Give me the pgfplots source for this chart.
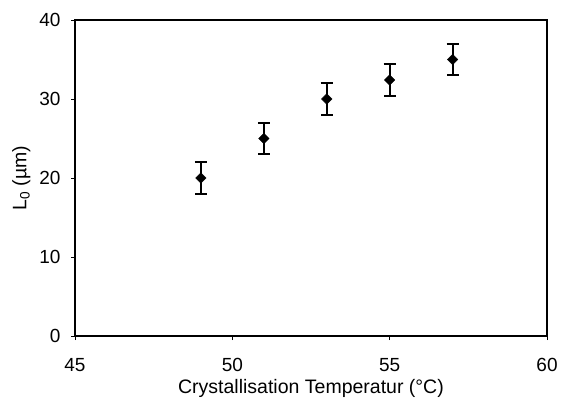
\documentclass[border=0pt]{standalone}
\usepackage{pgfplots}
\pgfplotsset{compat=1.18}
\usepackage{fontspec}
\setmainfont{Liberation Sans}
\begin{document}
\begin{tikzpicture}
\useasboundingbox (-75pt,-62pt) rectangle (486pt,336pt);
\begin{axis}[
  at={(0,0)}, anchor=south west,
  scale only axis, width=472pt, height=316pt,
  xmin=45, xmax=60, ymin=0, ymax=40,
  xtick={45,50,55,60}, ytick={0,10,20,30,40},
  tick align=outside, tick pos=left,
  major tick length=4pt,
  axis line style={line width=1.4pt},
  every tick/.style={black, line width=0.5pt},
  /pgf/number format/assume math mode=true,
  tick label style={font=\fontsize{19}{22}\selectfont},
  xticklabel style={yshift=-15pt},
  yticklabel style={xshift=-7pt},
  label style={font=\fontsize{19.5}{22}\selectfont},
  xlabel={Crystallisation Temperatur (°C)},
  ylabel={L\textsubscript{0} (µm)},
  xlabel style={at={(axis description cs:0.5,0)}, anchor=base, yshift=-57pt},
  ylabel style={yshift=2pt},
]
\addplot[only marks, mark=square*, mark size=3.7pt, mark options={rotate=45}, black,
  error bars/.cd, y dir=both, y explicit,
  error bar style={line width=2pt},
  error mark options={rotate=90, mark size=6pt, line width=2pt}]
  table[x=x, y=y, y error=e] {
  x y e
  49 20 2
  51 25 2
  53 30 2
  55 32.4 2
  57 35 2
  };
\end{axis}
\end{tikzpicture}
\end{document}
